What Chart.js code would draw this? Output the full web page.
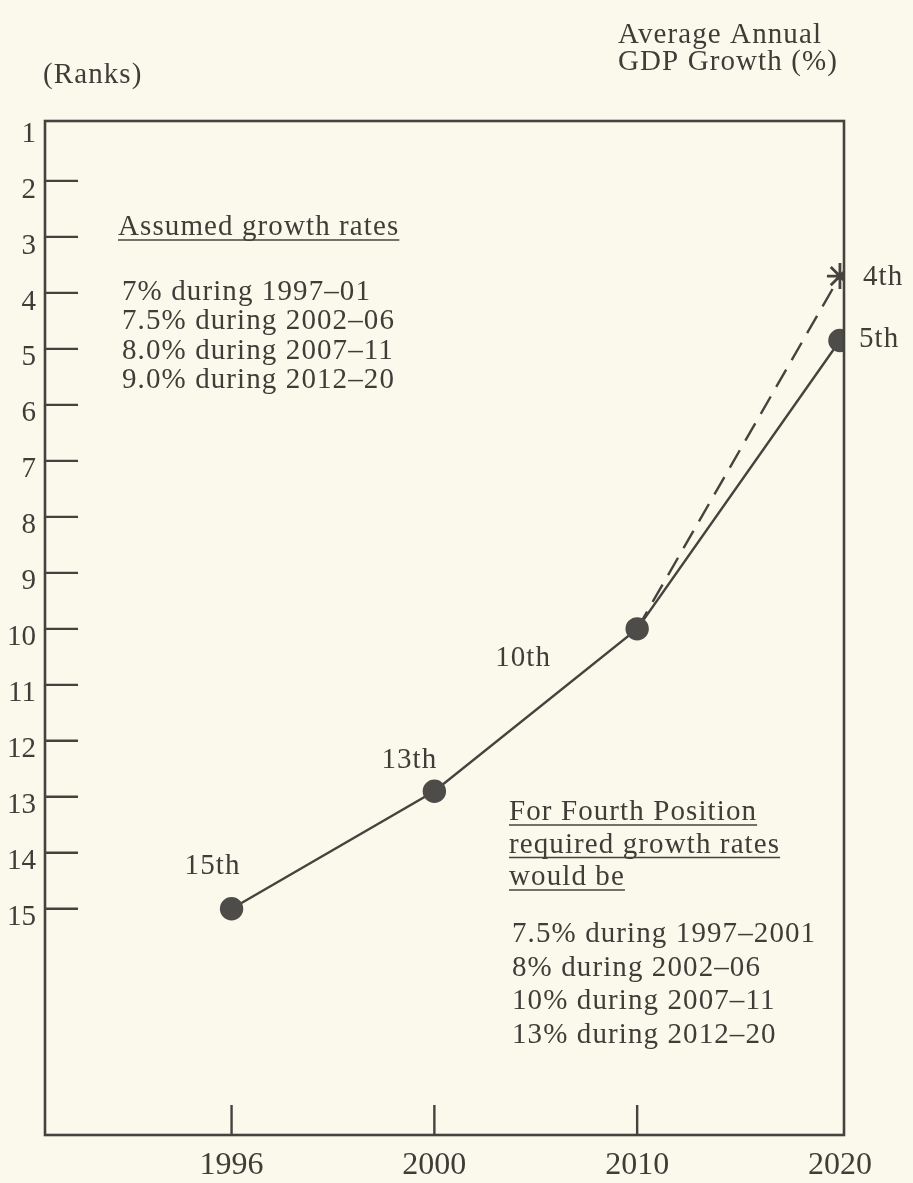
<!DOCTYPE html>
<html>
<head>
<meta charset="utf-8">
<script src="https://cdn.jsdelivr.net/npm/chart.js@4.4.1/dist/chart.umd.min.js"></script>
<style>
  html, body { margin: 0; padding: 0; background: #fbf9ec; }
  #wrap { width: 913px; height: 1183px; }
</style>
</head>
<body>
<div id="wrap"><canvas id="rankChart"></canvas></div>
<script>
// data
const years = ['1996', '2000', '2010', '2020'];
const rankProjected = [15, 12.9, 10, 4.85];
const rankLabels = ['15th', '13th', '10th', '5th'];
const rankFourth = [null, null, 10, 3.7];
const fourthLabel = '4th';
const rankTicks = [1, 2, 3, 4, 5, 6, 7, 8, 9, 10, 11, 12, 13, 14, 15];

const assumedTitle = 'Assumed growth rates';
const assumedRates = ['7% during 1997–01', '7.5% during 2002–06', '8.0% during 2007–11', '9.0% during 2012–20'];
const fourthTitle = ['For Fourth Position', 'required growth rates', 'would be'];
const fourthRates = ['7.5% during 1997–2001', '8% during 2002–06', '10% during 2007–11', '13% during 2012–20'];

const ink = '#3f3d38';
const serif = '"Liberation Serif", "Times New Roman", serif';

// where each point label sits relative to its point: [dx, dy, align]
const labelOffsets = [[-19, -35, 'center'], [-25, -23, 'center'], [-114, 37, 'center'], [19, 7, 'left']];
const fourthOffset = [23, 9, 'left'];

const framePlugin = {
    id: 'frame',
    beforeDraw(chart) {
        const c = chart.ctx;
        c.save();
        c.fillStyle = '#fbf9ec';
        c.fillRect(0, 0, chart.width, chart.height);
        c.restore();
    },
    afterDatasetsDraw(chart) {
        const c = chart.ctx;
        const a = chart.chartArea;
        const xs = chart.scales.x, ys = chart.scales.y;
        c.save();
        c.strokeStyle = '#46433e';
        c.lineWidth = 2.6;
        c.strokeRect(a.left, a.top, a.right - a.left, a.bottom - a.top);
        c.lineWidth = 2.4;
        c.beginPath();
        rankTicks.slice(1).forEach(r => {
            const y = ys.getPixelForValue(r);
            c.moveTo(a.left, y);
            c.lineTo(a.left + 33, y);
        });
        years.slice(0, 3).forEach((yr, i) => {
            const x = xs.getPixelForValue(i);
            c.moveTo(x, a.bottom);
            c.lineTo(x, a.bottom - 30);
        });
        c.stroke();

        // point labels
        c.fillStyle = ink;
        c.font = '29px ' + serif;
        c.letterSpacing = '1.1px';
        c.textBaseline = 'alphabetic';
        const m0 = chart.getDatasetMeta(0);
        m0.data.forEach((pt, i) => {
            const o = labelOffsets[i];
            c.textAlign = o[2];
            c.fillText(rankLabels[i], pt.x + o[0], pt.y + o[1]);
        });
        const m1 = chart.getDatasetMeta(1);
        const star = m1.data[3];
        c.textAlign = fourthOffset[2];
        c.fillText(fourthLabel, star.x + fourthOffset[0], star.y + fourthOffset[1]);

        // axis titles
        c.textAlign = 'left';
        c.fillText('(Ranks)', 43, 83);
        c.fillText('Average Annual', 618, 43);
        c.fillText('GDP Growth (%)', 618, 70);

        // notes
        const underline = (txt, x, y) => {
            c.fillText(txt, x, y);
            const w = c.measureText(txt).width;
            c.beginPath();
            c.lineWidth = 1.7;
            c.moveTo(x, y + 5);
            c.lineTo(x + w, y + 5);
            c.stroke();
        };
        underline(assumedTitle, 118, 235);
        assumedRates.forEach((t, i) => c.fillText(t, 122, 300 + i * 29.3));
        fourthTitle.forEach((t, i) => underline(t, 509, 820 + i * 32.5));
        fourthRates.forEach((t, i) => c.fillText(t, 512, 942 + i * 33.7));
        c.restore();
    }
};

new Chart(document.getElementById('rankChart'), {
    type: 'line',
    data: {
        datasets: [
            {
                label: 'Projected rank',
                data: years.map((y, i) => ({ x: i, y: rankProjected[i] })),
                borderColor: '#46433e',
                borderWidth: 2.4,
                pointRadius: 10.5,
                pointBackgroundColor: '#4e4c48',
                pointBorderColor: '#4e4c48',
                tension: 0
            },
            {
                label: 'Fourth position',
                data: years.map((y, i) => ({ x: i, y: rankFourth[i] })),
                borderColor: '#46433e',
                borderWidth: 2.4,
                borderDash: [20, 11],
                pointStyle: 'star',
                pointRadius: years.map((y, i) => (i === 3 ? 13 : 0)),
                pointBorderColor: '#46433e',
                pointBorderWidth: 2.8,
                tension: 0
            }
        ]
    },
    options: {
        responsive: true,
        maintainAspectRatio: false,
        animation: false,
        layout: { padding: { top: 121, right: 69, left: 0, bottom: 0 } },
        plugins: {
            legend: { display: false },
            tooltip: { enabled: false }
        },
        scales: {
            x: {
                type: 'linear',
                min: -0.92,
                max: 3.02,
                grid: { display: false },
                border: { display: false },
                afterBuildTicks: (scale) => { scale.ticks = years.map((y, i) => ({ value: i })); },
                afterFit: (scale) => { scale.height = 48; },
                ticks: {
                    autoSkip: false,
                    maxRotation: 0,
                    padding: 3,
                    color: ink,
                    font: { family: serif, size: 32 },
                    callback: (v) => years[v] ?? ''
                }
            },
            y: {
                type: 'linear',
                reverse: true,
                min: 0.93,
                max: 19.04,
                grid: { display: false },
                border: { display: false },
                afterBuildTicks: (scale) => { scale.ticks = rankTicks.map(v => ({ value: v })); },
                afterFit: (scale) => { scale.width = 45; },
                ticks: {
                    padding: 1,
                    labelOffset: 9,
                    color: ink,
                    font: { family: serif, size: 29 }
                }
            }
        }
    },
    plugins: [framePlugin]
});
</script>
</body>
</html>
